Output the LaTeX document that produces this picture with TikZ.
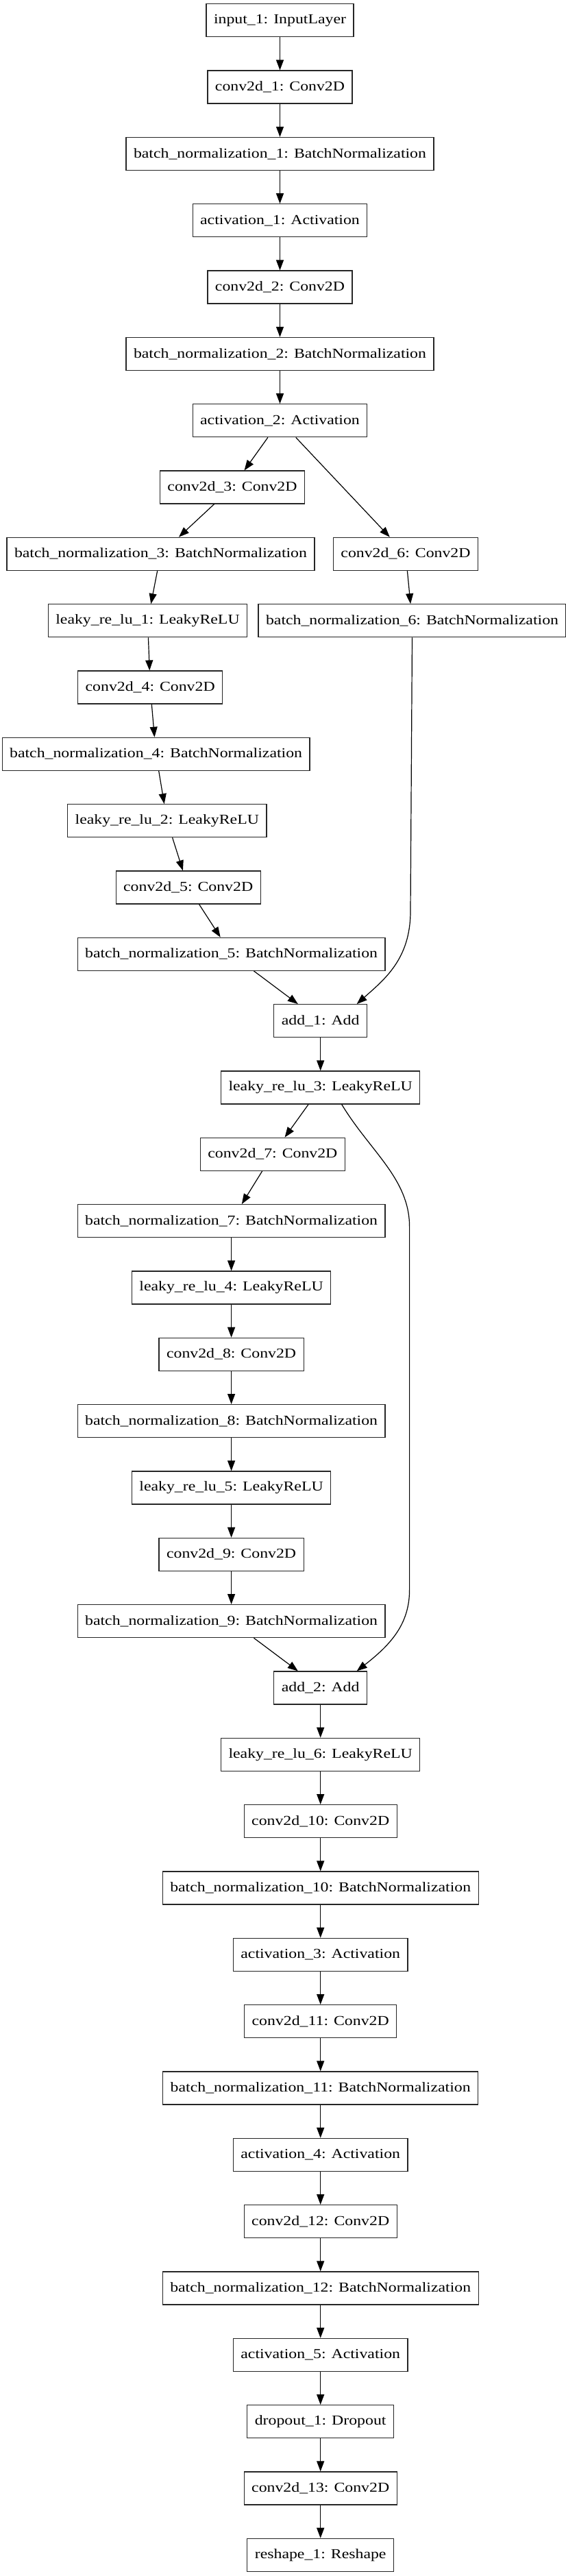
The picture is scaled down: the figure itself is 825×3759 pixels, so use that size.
\documentclass[tikz,border=0pt]{standalone}
\usepackage{fontspec}
\newfontfamily\layerfont[FakeStretch=1.19]{Liberation Serif}
\usetikzlibrary{arrows.meta,positioning,calc}

\begin{document}
\begin{tikzpicture}[
    x=0.5pt, y=-0.5pt,
    layer/.style = {rectangle, draw=black!85, line width=0.6pt, minimum height=24pt, inner xsep=5.5pt, inner ysep=0pt, font=\layerfont\fontsize{10pt}{12pt}\selectfont},
    edge/.style = {-{Triangle[length=7.5pt,width=5.5pt]}, line width=0.6pt}
]
    \useasboundingbox (0,0) rectangle (825,3759);
    % stem
    \node[layer] (input1) at (408.5,29.7) {input\_1: InputLayer};
    \node[layer] (conv1) at (408.5,127.0) {conv2d\_1: Conv2D};
    \node[layer] (bn1) at (408.5,224.4) {batch\_normalization\_1: BatchNormalization};
    \node[layer] (act1) at (408.5,321.7) {activation\_1: Activation};
    \node[layer] (conv2) at (408.5,419.0) {conv2d\_2: Conv2D};
    \node[layer] (bn2) at (408.5,516.4) {batch\_normalization\_2: BatchNormalization};
    \node[layer] (act2) at (408.5,613.7) {activation\_2: Activation};
    % first residual block
    \node[layer] (conv3) at (339.0,711.0) {conv2d\_3: Conv2D};
    \node[layer] (bn3) at (234.5,808.3) {batch\_normalization\_3: BatchNormalization};
    \node[layer] (conv6) at (592.0,808.3) {conv2d\_6: Conv2D};
    \node[layer] (lrelu1) at (215.5,905.7) {leaky\_re\_lu\_1: LeakyReLU};
    \node[layer] (bn6) at (601.5,905.7) {batch\_normalization\_6: BatchNormalization};
    \node[layer] (conv4) at (219.2,1003.0) {conv2d\_4: Conv2D};
    \node[layer] (bn4) at (227.6,1100.3) {batch\_normalization\_4: BatchNormalization};
    \node[layer] (lrelu2) at (243.8,1197.7) {leaky\_re\_lu\_2: LeakyReLU};
    \node[layer] (conv5) at (274.7,1295.0) {conv2d\_5: Conv2D};
    \node[layer] (bn5) at (337.6,1392.3) {batch\_normalization\_5: BatchNormalization};
    \node[layer] (add1) at (467.7,1489.7) {add\_1: Add};
    \node[layer] (lrelu3) at (467.7,1587.0) {leaky\_re\_lu\_3: LeakyReLU};
    % second residual block
    \node[layer] (conv7) at (397.9,1684.3) {conv2d\_7: Conv2D};
    \node[layer] (bn7) at (337.6,1781.6) {batch\_normalization\_7: BatchNormalization};
    \node[layer] (lrelu4) at (337.6,1879.0) {leaky\_re\_lu\_4: LeakyReLU};
    \node[layer] (conv8) at (337.6,1976.3) {conv2d\_8: Conv2D};
    \node[layer] (bn8) at (337.6,2073.6) {batch\_normalization\_8: BatchNormalization};
    \node[layer] (lrelu5) at (337.6,2171.0) {leaky\_re\_lu\_5: LeakyReLU};
    \node[layer] (conv9) at (337.6,2268.3) {conv2d\_9: Conv2D};
    \node[layer] (bn9) at (337.6,2365.6) {batch\_normalization\_9: BatchNormalization};
    \node[layer] (add2) at (467.7,2463.0) {add\_2: Add};
    \node[layer] (lrelu6) at (467.7,2560.3) {leaky\_re\_lu\_6: LeakyReLU};
    % head
    \node[layer] (conv10) at (467.7,2657.6) {conv2d\_10: Conv2D};
    \node[layer] (bn10) at (467.7,2755.0) {batch\_normalization\_10: BatchNormalization};
    \node[layer] (act3) at (467.7,2852.3) {activation\_3: Activation};
    \node[layer] (conv11) at (467.7,2949.6) {conv2d\_11: Conv2D};
    \node[layer] (bn11) at (467.7,3046.9) {batch\_normalization\_11: BatchNormalization};
    \node[layer] (act4) at (467.7,3144.3) {activation\_4: Activation};
    \node[layer] (conv12) at (467.7,3241.6) {conv2d\_12: Conv2D};
    \node[layer] (bn12) at (467.7,3338.9) {batch\_normalization\_12: BatchNormalization};
    \node[layer] (act5) at (467.7,3436.3) {activation\_5: Activation};
    \node[layer] (drop1) at (467.7,3533.6) {dropout\_1: Dropout};
    \node[layer] (conv13) at (467.7,3630.9) {conv2d\_13: Conv2D};
    \node[layer] (reshape1) at (467.7,3728.3) {reshape\_1: Reshape};

    \draw[edge] (input1) -- (conv1);
    \draw[edge] (conv1) -- (bn1);
    \draw[edge] (bn1) -- (act1);
    \draw[edge] (act1) -- (conv2);
    \draw[edge] (conv2) -- (bn2);
    \draw[edge] (bn2) -- (act2);
    \draw[edge] (act2) -- (conv3);
    \draw[edge] (act2) -- (conv6);
    \draw[edge] (conv3) -- (bn3);
    \draw[edge] (conv6) -- (bn6);
    \draw[edge] (bn3) -- (lrelu1);
    \draw[edge] (lrelu1) -- (conv4);
    \draw[edge] (conv4) -- (bn4);
    \draw[edge] (bn4) -- (lrelu2);
    \draw[edge] (lrelu2) -- (conv5);
    \draw[edge] (conv5) -- (bn5);
    \draw[edge] (bn5) -- (add1);
    \draw[edge] (bn6.south) -- (599,1330) .. controls (599,1400) and (560,1430) .. ($(add1.north)+(53,0)$);
    \draw[edge] (add1) -- (lrelu3);
    \draw[edge] (lrelu3) -- (conv7);
    \draw[edge] ($(lrelu3.south)+(31,0)$) .. controls (540,1680) and (597.6,1720) .. (597.6,1790) -- (597.6,2320) .. controls (597.6,2370) and (570,2400) .. ($(add2.north)+(53,0)$);
    \draw[edge] (conv7) -- (bn7);
    \draw[edge] (bn7) -- (lrelu4);
    \draw[edge] (lrelu4) -- (conv8);
    \draw[edge] (conv8) -- (bn8);
    \draw[edge] (bn8) -- (lrelu5);
    \draw[edge] (lrelu5) -- (conv9);
    \draw[edge] (conv9) -- (bn9);
    \draw[edge] (bn9) -- (add2);
    \draw[edge] (add2) -- (lrelu6);
    \draw[edge] (lrelu6) -- (conv10);
    \draw[edge] (conv10) -- (bn10);
    \draw[edge] (bn10) -- (act3);
    \draw[edge] (act3) -- (conv11);
    \draw[edge] (conv11) -- (bn11);
    \draw[edge] (bn11) -- (act4);
    \draw[edge] (act4) -- (conv12);
    \draw[edge] (conv12) -- (bn12);
    \draw[edge] (bn12) -- (act5);
    \draw[edge] (act5) -- (drop1);
    \draw[edge] (drop1) -- (conv13);
    \draw[edge] (conv13) -- (reshape1);
\end{tikzpicture}
\end{document}
